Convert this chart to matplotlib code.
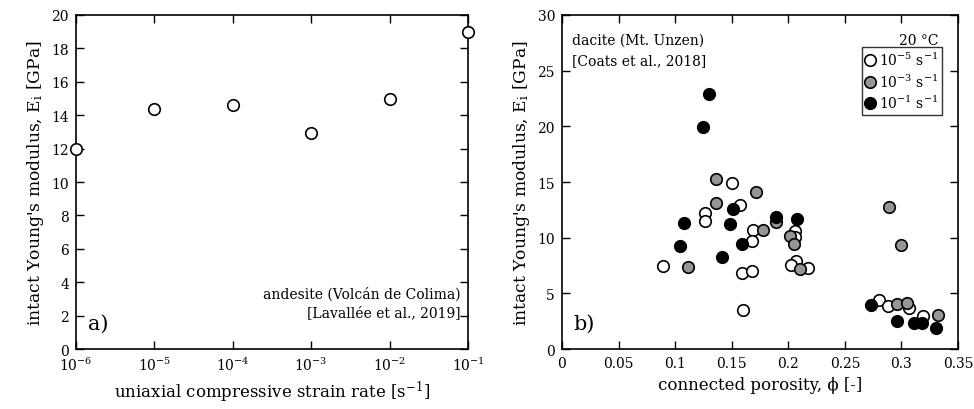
import matplotlib
matplotlib.use("Agg")
import matplotlib.pyplot as plt
from matplotlib.ticker import FixedLocator, FuncFormatter, LogLocator, NullLocator
from matplotlib.lines import Line2D

plt.rcParams['font.family'] = ['DejaVu Serif']
plt.rcParams['mathtext.fontset'] = 'dejavuserif'

# panel a) andesite, Volcan de Colima
rate_a = [1e-6, 1e-5, 1e-4, 1e-3, 1e-2, 1e-1]
E_a = [12.0, 14.4, 14.6, 12.95, 14.95, 19.0]

# panel b) dacite, Mt. Unzen
phi_slow = [0.089, 0.1265, 0.1265, 0.150, 0.157, 0.169, 0.168, 0.159, 0.168, 0.160,
            0.206, 0.206, 0.207, 0.202, 0.217, 0.2805, 0.288, 0.307, 0.319]
E_slow = [7.43, 12.2, 11.5, 14.9, 12.9, 10.72, 9.67, 6.83, 6.98, 3.5,
          10.63, 10.03, 7.94, 7.55, 7.25, 4.4, 3.86, 3.68, 2.99]
phi_mid = [0.111, 0.1357, 0.1357, 0.1717, 0.1776, 0.1894, 0.2018, 0.2053, 0.2106,
           0.2888, 0.300, 0.296, 0.3053, 0.3325]
E_mid = [7.33, 15.27, 13.1, 14.13, 10.69, 11.38, 10.12, 9.43, 7.19,
         12.73, 9.34, 4.0, 4.16, 3.1]
phi_fast = [0.130, 0.1245, 0.151, 0.108, 0.1487, 0.1044, 0.1894, 0.2077, 0.1587, 0.141,
            0.2735, 0.296, 0.311, 0.3186, 0.3307]
E_fast = [22.88, 19.9, 12.58, 11.28, 11.2, 9.28, 11.89, 11.68, 9.47, 8.3,
          3.92, 2.54, 2.36, 2.33, 1.89]

series_b = [
    (phi_slow, E_slow, 'white', r'$10^{-5}$ s$^{-1}$'),
    (phi_mid, E_mid, '#969696', r'$10^{-3}$ s$^{-1}$'),
    (phi_fast, E_fast, 'black', r'$10^{-1}$ s$^{-1}$'),
]

ylabel = r"intact Young's modulus, E$_\mathrm{i}$ [GPa]"

fig = plt.figure(figsize=(9.74, 4.10), dpi=100)
ax1 = fig.add_axes([0.078, 0.1463, 0.4025, 0.8147])
ax2 = fig.add_axes([0.577, 0.1463, 0.4066, 0.8147])

for ax in (ax1, ax2):
    ax.tick_params(direction='in', length=6, width=1, top=True, right=True,
                   labelsize=10, pad=5)
    for sp in ax.spines.values():
        sp.set_linewidth(1.2)

# panel a
ax1.plot(rate_a, E_a, 'o', ms=8.3, mfc='white', mec='black', mew=1.2, clip_on=False, zorder=5)
ax1.set_xscale('log')
ax1.set_xlim(1e-6, 1e-1)
ax1.set_ylim(0, 20)
ax1.xaxis.set_major_locator(LogLocator(base=10, numticks=10))
ax1.xaxis.set_minor_locator(NullLocator())
ax1.yaxis.set_major_locator(FixedLocator(range(0, 21, 2)))
ax1.set_xlabel(r"uniaxial compressive strain rate [s$^{-1}$]", fontsize=12)
ax1.set_ylabel(ylabel, fontsize=12.3)
ax1.text(0.98, 0.165, "andesite (Volcán de Colima)", transform=ax1.transAxes,
         ha='right', va='center', fontsize=10)
ax1.text(0.98, 0.11, "[Lavallée et al., 2019]", transform=ax1.transAxes,
         ha='right', va='center', fontsize=10)
ax1.text(0.03, 0.05, "a)", transform=ax1.transAxes, ha='left', va='bottom', fontsize=15)

# panel b
for x, y, c, lab in series_b:
    ax2.plot(x, y, 'o', ms=8.3, mfc=c, mec='black', mew=1.2, zorder=3)
ax2.set_xlim(0, 0.35)
ax2.set_ylim(0, 30)
ax2.xaxis.set_major_locator(FixedLocator([0, 0.05, 0.1, 0.15, 0.2, 0.25, 0.3, 0.35]))
ax2.xaxis.set_major_formatter(FuncFormatter(lambda v, p: '%g' % round(v, 2)))
ax2.yaxis.set_major_locator(FixedLocator(range(0, 31, 5)))
ax2.set_xlabel("connected porosity, ϕ [-]", fontsize=12)
ax2.set_ylabel(ylabel, fontsize=12.3)
ax2.text(0.025, 0.925, "dacite (Mt. Unzen)", transform=ax2.transAxes,
         ha='left', va='center', fontsize=10)
ax2.text(0.025, 0.865, "[Coats et al., 2018]", transform=ax2.transAxes,
         ha='left', va='center', fontsize=10)
ax2.text(0.95, 0.925, "20 °C", transform=ax2.transAxes, ha='right', va='center', fontsize=10)
ax2.text(0.03, 0.05, "b)", transform=ax2.transAxes, ha='left', va='bottom', fontsize=15)

handles = [Line2D([], [], ls='none', marker='o', ms=8.3, mfc=c, mec='black', mew=1.2)
           for _, _, c, _ in series_b]
leg = ax2.legend(handles, [s[3] for s in series_b], loc='upper right',
                 bbox_to_anchor=(0.96, 0.905), fontsize=10, frameon=True, fancybox=False,
                 handlelength=0.6, handletextpad=0.3, borderpad=0.3, labelspacing=0.3,
                 borderaxespad=0)
leg.get_frame().set_edgecolor('black')
leg.get_frame().set_linewidth(1.0)

fig.savefig('out.png', dpi=100)
